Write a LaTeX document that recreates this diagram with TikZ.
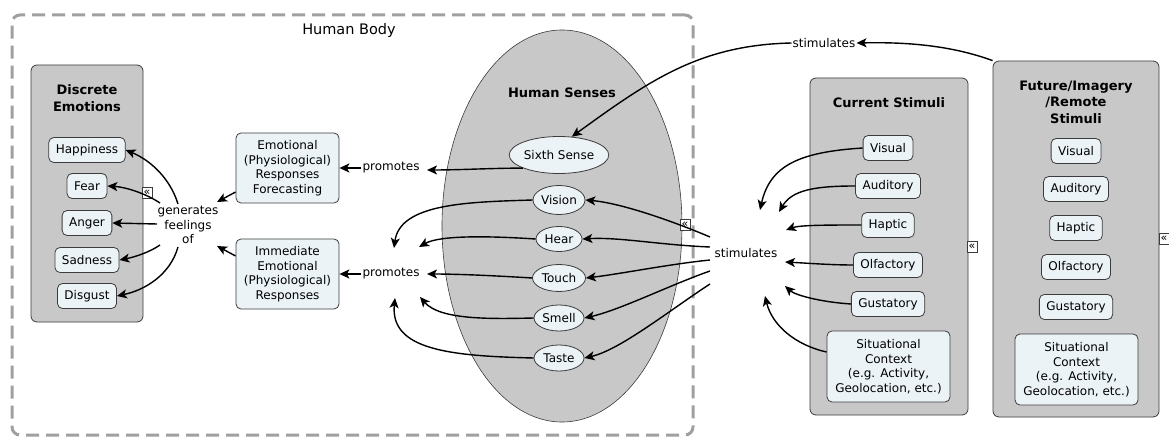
\documentclass[tikz,border=0pt]{standalone}
\usepackage{fontspec}
\setmainfont{DejaVu Sans}
\usetikzlibrary{arrows.meta,shapes.geometric,calc}
\definecolor{boxgray}{RGB}{200,200,200}
\definecolor{itemfill}{RGB}{235,243,246}
\definecolor{edgegray}{RGB}{60,60,60}
\definecolor{dashgray}{RGB}{160,160,160}

\begin{document}
\begin{tikzpicture}[x=1pt,y=-1pt,
  font=\fontsize{12}{14.5}\selectfont,
  container/.style={draw=edgegray, fill=boxgray, rounded corners=6pt, line width=0.8pt, inner sep=0pt},
  item/.style={draw=edgegray, fill=itemfill, rounded corners=5pt, line width=0.8pt, inner xsep=7pt, inner ysep=3pt, minimum height=25pt, align=center},
  sense/.style={draw=edgegray, fill=itemfill, ellipse, line width=0.8pt, inner sep=0pt},
  title/.style={font=\fontsize{13}{16.5}\selectfont\bfseries, align=center, inner sep=0pt},
  linklabel/.style={align=center, inner sep=1pt},
  conn/.style={-{Stealth[length=10pt,width=9pt,inset=2.5pt]}, line width=1.4pt, black},
  fold/.style={draw=edgegray, fill=white, minimum width=10pt, minimum height=11pt, inner sep=0pt, font=\fontsize{11}{11}\selectfont, line width=0.6pt},
]
\useasboundingbox (0,0) rectangle (1169,438);

% Human body frame
\node[draw=dashgray, line width=3pt, dash pattern=on 13pt off 7pt, rounded corners=8pt,
      minimum width=681pt, minimum height=420pt, inner sep=0pt] (body) at (352.5,225) {};
\node[font=\fontsize{14.5}{16}\selectfont, inner sep=0pt] (bodytitle) at (349,31) {Human Body};

% Discrete emotions
\node[container, minimum width=112pt, minimum height=257pt] (emo) at (87,193.5) {};
\node[title] (emotitle) at (87,98) {Discrete\\Emotions};
\node[item] (happy) at (87,150) {Happiness};
\node[item] (fear) at (87,186) {Fear};
\node[item] (anger) at (87,223) {Anger};
\node[item] (sad) at (87,260) {Sadness};
\node[item] (disgust) at (87,296) {Disgust};
\node[fold] (fold1) at (147,193) {«};

\node[linklabel] (gen) at (188,225) {generates\\feelings\\of};

% Emotional responses
\node[item, minimum width=103pt, minimum height=70pt, inner xsep=2pt] (fore) at (287.5,168) {Emotional\\(Physiological)\\Responses\\Forecasting};
\node[item, minimum width=103pt, minimum height=70pt, inner xsep=2pt] (imm) at (287.5,274) {Immediate\\Emotional\\(Physiological)\\Responses};
\node[linklabel] (prom1) at (391,168) {promotes};
\node[linklabel] (prom2) at (391,274) {promotes};

% Human senses
\node[draw=edgegray, fill=boxgray, ellipse, line width=0.6pt, minimum width=240pt, minimum height=392pt, inner sep=0pt] (senses) at (562,226) {};
\node[title] (sensestitle) at (562,93) {Human Senses};
\node[sense, minimum width=88pt, minimum height=37pt] (sixth) at (559,155) {Sixth Sense};
\node[sense, minimum width=52pt, minimum height=29pt] (vision) at (559,200) {Vision};
\node[sense, minimum width=46pt, minimum height=25pt] (hear) at (559,239) {Hear};
\node[sense, minimum width=53pt, minimum height=27pt] (touch) at (559,278) {Touch};
\node[sense, minimum width=50pt, minimum height=26pt] (smell) at (559,318) {Smell};
\node[sense, minimum width=50pt, minimum height=26pt] (taste) at (559,358) {Taste};
\node[fold] (fold2) at (685,225) {«};

\node[linklabel] (stimmid) at (746,253) {stimulates};
\node[linklabel] (stimtop) at (824,43) {stimulates};

% Current stimuli
\node[container, minimum width=158pt, minimum height=337pt] (cur) at (889,246.5) {};
\node[title] (curtitle) at (889,103) {Current Stimuli};
\node[item] (cvis) at (888,148) {Visual};
\node[item] (caud) at (888,186) {Auditory};
\node[item] (chap) at (888,225) {Haptic};
\node[item] (colf) at (888,265) {Olfactory};
\node[item] (cgus) at (888,304) {Gustatory};
\node[item, minimum width=123pt, minimum height=71pt, inner xsep=2pt] (csit) at (888.5,366.5) {Situational\\Context\\(e.g. Activity,\\Geolocation, etc.)};
\node[fold] (fold3) at (972,247) {«};

% Future / imagery / remote stimuli
\node[container, minimum width=166pt, minimum height=356pt] (fut) at (1076,239) {};
\node[title] (futtitle) at (1076,102) {Future/Imagery\\/Remote\\Stimuli};
\node[item] (fvis) at (1076,151) {Visual};
\node[item] (faud) at (1076,189) {Auditory};
\node[item] (fhap) at (1076,228) {Haptic};
\node[item] (folf) at (1076,267) {Olfactory};
\node[item] (fgus) at (1076,307) {Gustatory};
\node[item, minimum width=123pt, minimum height=71pt, inner xsep=2pt] (fsit) at (1076.5,369.5) {Situational\\Context\\(e.g. Activity,\\Geolocation, etc.)};
\node[fold] (fold4) at (1164,239) {«};

% free ends of connectors around the linking phrases
\coordinate (g1) at (178,204);
\coordinate (g2) at (160,203);
\coordinate (g3) at (157,224);
\coordinate (g4) at (160,245);
\coordinate (g5) at (178,247);
\coordinate (gin1) at (217,202);
\coordinate (gin2) at (217,246);
\coordinate (p1in) at (427,170);
\coordinate (p2a) at (394,248);
\coordinate (p2b) at (419,247);
\coordinate (p2c) at (427,274);
\coordinate (p2d) at (420,297);
\coordinate (p2e) at (395,298);
\coordinate (s1) at (710,237);
\coordinate (s2) at (710,247);
\coordinate (s3) at (710,260);
\coordinate (s4) at (710,271);
\coordinate (s5) at (710,284);
\coordinate (c1) at (760,210);
\coordinate (c2) at (779,212);
\coordinate (c3) at (786,230);
\coordinate (c4) at (785,262);
\coordinate (c5) at (785,286);
\coordinate (c6) at (765,296);

% generates feelings of
\draw[conn] (g1) .. controls (170,178) and (150,160) .. (happy.east);
\draw[conn] (g2) .. controls (145,193) and (125,187) .. (fear.east);
\draw[conn] (g3) -- (anger.east);
\draw[conn] (g4) .. controls (150,252) and (135,257) .. (sad.east);
\draw[conn] (g5) .. controls (170,275) and (145,290) .. (disgust.east);
\draw[conn] (fore.west |- 0,192) -- (gin1);
\draw[conn] (imm.west |- 0,256) -- (gin2);

% promotes
\draw[conn] (prom1.west) -- (fore.east);
\draw[conn] (prom2.west) -- (imm.east);
\draw[conn] (sixth.200) .. controls (495,168) and (460,170) .. (p1in);
\draw[conn] (vision.west) .. controls (470,202) and (400,203) .. (p2a);
\draw[conn] (hear.west) .. controls (490,236) and (440,235) .. (p2b);
\draw[conn] (touch.west) .. controls (500,276) and (460,274) .. (p2c);
\draw[conn] (smell.west) .. controls (490,319) and (440,320) .. (p2d);
\draw[conn] (taste.west) .. controls (450,356) and (390,350) .. (p2e);

% stimulates the senses
\draw[conn] (s1) .. controls (670,220) and (620,203) .. (vision.east);
\draw[conn] (s2) .. controls (660,245) and (620,237) .. (hear.east);
\draw[conn] (s3) .. controls (670,264) and (620,274) .. (touch.east);
\draw[conn] (s4) .. controls (670,285) and (620,310) .. (smell.east);
\draw[conn] (s5) .. controls (670,310) and (620,350) .. (taste.east);

% current stimuli
\draw[conn] (cvis.west) .. controls (800,152) and (770,165) .. (c1);
\draw[conn] (caud.west) .. controls (815,186) and (792,190) .. (c2);
\draw[conn] (chap.west) .. controls (830,225) and (800,225) .. (c3);
\draw[conn] (colf.west) .. controls (830,265) and (805,263) .. (c4);
\draw[conn] (cgus.west) .. controls (820,302) and (795,295) .. (c5);
\draw[conn] (csit.west |- 0,352) .. controls (795,345) and (772,325) .. (c6);

% future stimuli and the sixth sense
\draw[conn] (fut.north west) .. controls (950,45) and (905,42) .. (stimtop.east);
\draw[conn] (stimtop.west) .. controls (700,45) and (650,80) .. (sixth.55);
\end{tikzpicture}
\end{document}
